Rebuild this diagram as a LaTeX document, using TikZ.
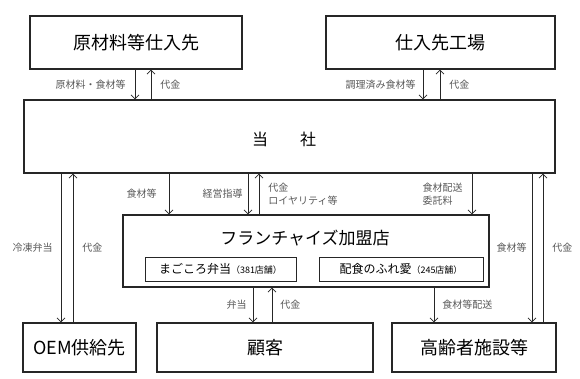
\documentclass[tikz,border=0pt]{standalone}
\usepackage{fontspec}
\setmainfont{Noto Sans CJK JP}
\usepackage{tikz}
\usetikzlibrary{arrows.meta}

\begin{document}
\begin{tikzpicture}[x=1pt, y=-1pt,
    caja/.style={draw=black!85, line width=1.1pt, inner sep=0pt, font=\fontsize{18}{20}\selectfont},
    sub/.style={draw=black!85, line width=1pt, inner sep=0pt, minimum height=24pt, font=\fontsize{12}{14}\selectfont},
    flujo/.style={draw=black!85, line width=0.8pt, -{Straight Barb[length=4pt,width=8pt]}},
    etiq/.style={inner sep=0pt, text=black!65, font=\fontsize{10}{13}\selectfont, align=left}]
  \useasboundingbox (0,0) rectangle (580,379);

  % Proveedores
  \node[caja, minimum width=212pt, minimum height=53pt] (genzai) at (136,42.5) {原材料等仕入先};
  \node[caja, minimum width=229pt, minimum height=53pt] (kojo) at (440.5,42.5) {仕入先工場};

  % Empresa
  \node[caja, minimum width=531pt, minimum height=73pt] (tosha) at (289.5,136.5) {};
  \node[font=\fontsize{16}{18}\selectfont, inner sep=0pt] (toshatxt) at (284,139.5) {当\hspace{2em}社};

  % Franquicias
  \node[caja, minimum width=366pt, minimum height=72pt] (fc) at (306,251) {};
  \node[font=\fontsize{17}{19}\selectfont, inner sep=0pt] (fctitulo) at (305,238) {フランチャイズ加盟店};
  \node[sub, minimum width=151pt] (magokoro) at (220.5,269) {まごころ弁当{\fontsize{9}{10}\selectfont（381店舗）}};
  \node[sub, minimum width=164pt] (haishoku) at (401,269) {配食のふれ愛{\fontsize{9}{10}\selectfont（245店舗）}};

  % Clientes
  \node[caja, minimum width=113pt, minimum height=49pt] (oem) at (79.5,347.5) {OEM供給先};
  \node[caja, minimum width=216pt, minimum height=49pt] (kokyaku) at (265,347.5) {顧客};
  \node[caja, minimum width=164pt, minimum height=49pt] (korei) at (474,347.5) {高齢者施設等};

  % Flujos superiores
  \draw[flujo] (genzai.south -| 135,0) -- (tosha.north -| 135,0) node[etiq, midway, left=9pt] (l-genzai) {原材料・食材等};
  \draw[flujo] (tosha.north -| 151,0) -- (genzai.south -| 151,0) node[etiq, midway, right=9pt] (l-daikin1) {代金};
  \draw[flujo] (kojo.south -| 423,0) -- (tosha.north -| 423,0) node[etiq, midway, left=7pt] (l-chori) {調理済み食材等};
  \draw[flujo] (tosha.north -| 440,0) -- (kojo.south -| 440,0) node[etiq, midway, right=9pt] (l-daikin2) {代金};

  % Flujos con OEM
  \draw[flujo] (tosha.south -| 61,0) -- (oem.north -| 61,0) node[etiq, midway, left=8pt] (l-reito) {冷凍弁当};
  \draw[flujo] (oem.north -| 73,0) -- (tosha.south -| 73,0) node[etiq, midway, right=9pt] (l-daikin3) {代金};

  % Flujos con franquicias
  \draw[flujo] (tosha.south -| 169,0) -- (fc.north -| 169,0) node[etiq, midway, left=12pt] (l-shokuzai) {食材等};
  \draw[flujo] (tosha.south -| 248,0) -- (fc.north -| 248,0) node[etiq, midway, left=5pt] (l-keiei) {経営指導};
  \draw[flujo] (fc.north -| 259,0) -- (tosha.south -| 259,0) node[etiq, midway, right=9pt] (l-royalty) {代金\\ロイヤリティ等};
  \draw[flujo] (tosha.south -| 472,0) -- (fc.north -| 472,0) node[etiq, midway, left=9pt] (l-itaku) {食材配送\\委託料};

  % Flujos con instalaciones
  \draw[flujo] (tosha.south -| 532,0) -- (korei.north -| 532,0) node[etiq, midway, left=5pt] (l-shokuzai2) {食材等};
  \draw[flujo] (korei.north -| 543,0) -- (tosha.south -| 543,0) node[etiq, midway, right=9pt] (l-daikin4) {代金};

  % Flujos inferiores
  \draw[flujo] (fc.south -| 253,0) -- (kokyaku.north -| 253,0) node[etiq, midway, left=6pt] (l-bento) {弁当};
  \draw[flujo] (kokyaku.north -| 272,0) -- (fc.south -| 272,0) node[etiq, midway, right=8pt] (l-daikin5) {代金};
  \draw[flujo] (fc.south -| 434,0) -- (korei.north -| 434,0) node[etiq, midway, right=8pt] (l-haiso) {食材等配送};
\end{tikzpicture}
\end{document}
